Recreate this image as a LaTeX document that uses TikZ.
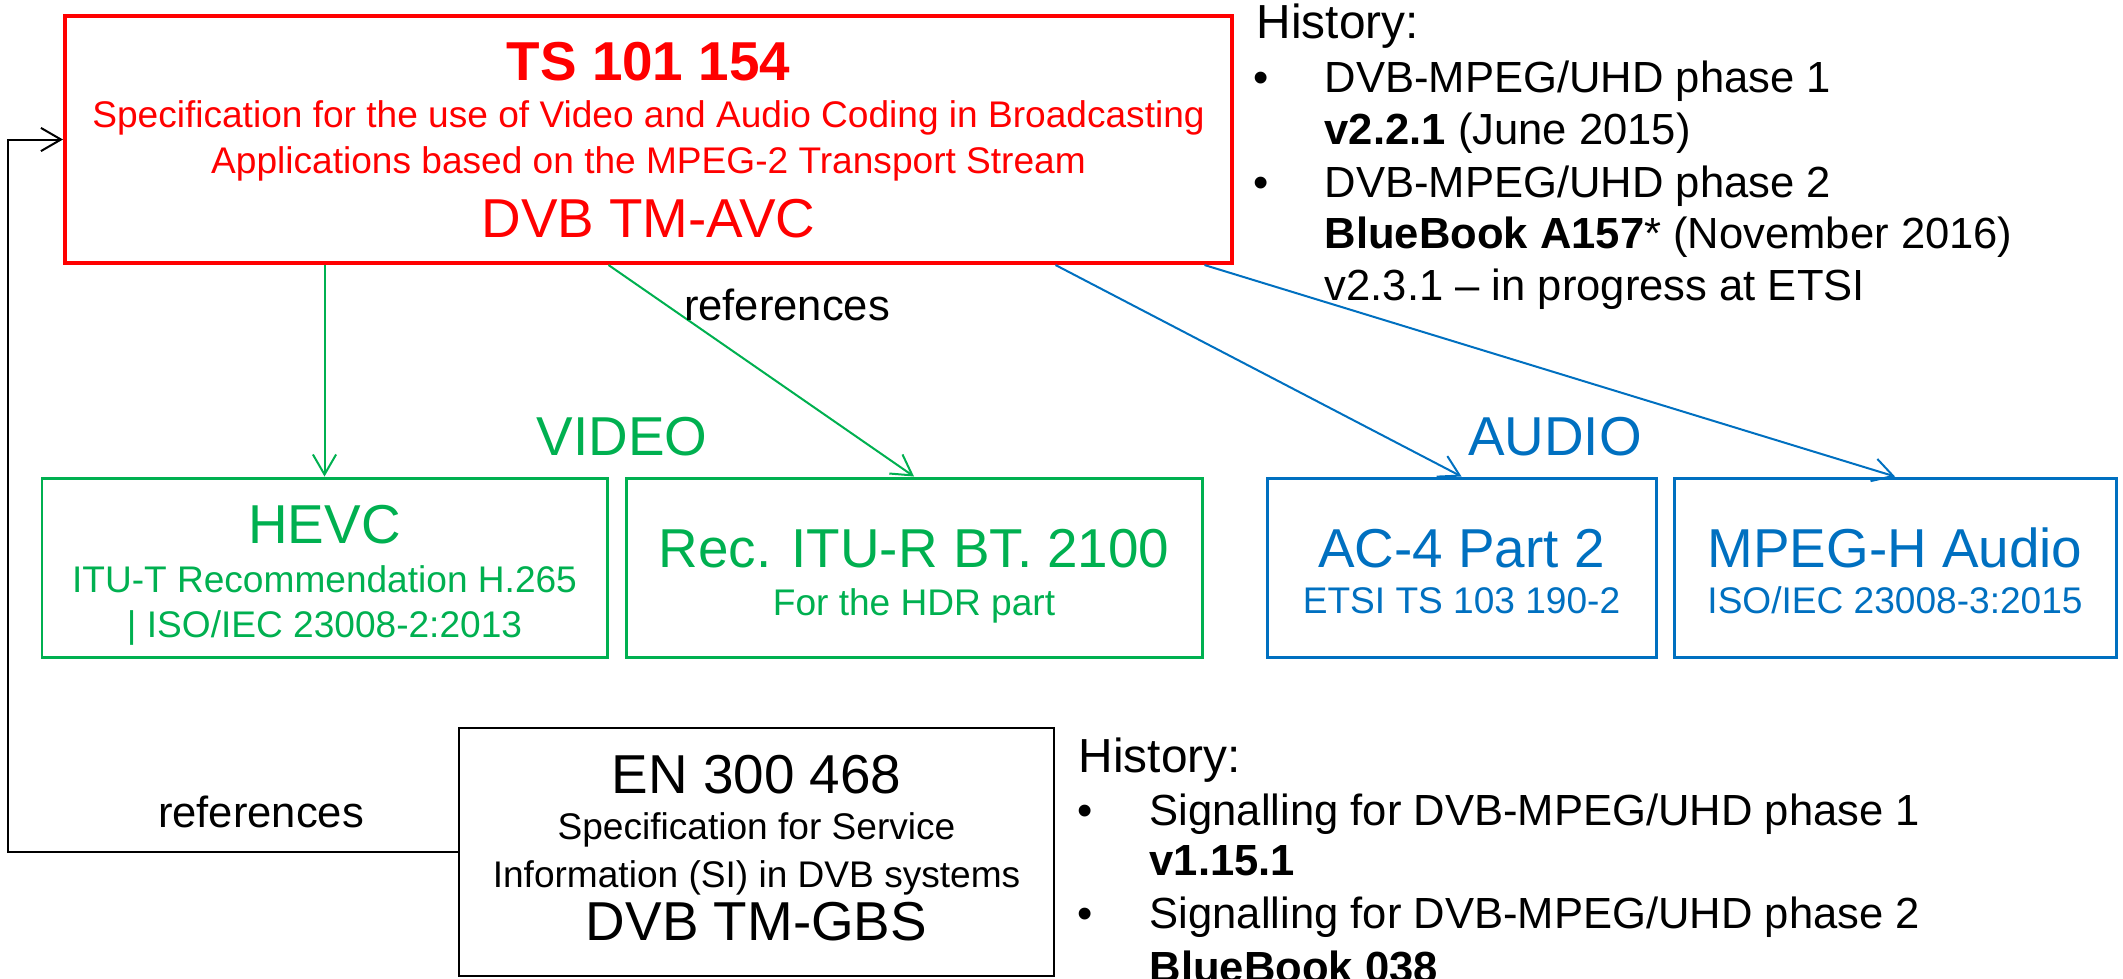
\documentclass[tikz,border=0pt]{standalone}
\usepackage{fontspec}
\setmainfont{Liberation Sans}
\usetikzlibrary{arrows.meta}
\definecolor{tsred}{HTML}{FF0000}
\definecolor{vidgreen}{HTML}{00B050}
\definecolor{audblue}{HTML}{0070C0}

\begin{document}
\begin{tikzpicture}[
  >={Straight Barb[length=5.7pt,width=6.6pt]},
  box/.style={draw, inner sep=0, line width=0.85pt},
  txtL/.style={inner sep=0, anchor=base, font=\fontsize{15.6}{18}\selectfont},
  txtS/.style={inner sep=0, anchor=base, font=\fontsize{10.55}{12.6}\selectfont},
  txtM/.style={inner sep=0, anchor=base west, font=\fontsize{12.4}{15}\selectfont},
  txtH/.style={inner sep=0, anchor=base west, font=\fontsize{13.6}{16}\selectfont},
  link/.style={->, line width=0.57pt}
]
\useasboundingbox (0,0) rectangle (21.23,-9.78);
% Main specification
\node[box, tsred, line width=1.15pt, minimum width=11.67cm, minimum height=2.47cm] (ts) at (6.485,-1.395) {};
\node[txtL, tsred, font=\fontsize{15.6}{18}\selectfont\bfseries] (tsnum) at (6.485,-0.80) {TS 101 154};
\node[txtS, tsred] (tsdesc1) at (6.485,-1.27) {Specification for the use of Video and Audio Coding in Broadcasting};
\node[txtS, tsred] (tsdesc2) at (6.485,-1.73) {Applications based on the MPEG-2 Transport Stream};
\node[txtL, tsred] (tsgrp) at (6.485,-2.37) {DVB TM-AVC};
% Video:
\node[txtL, vidgreen] (video) at (6.22,-4.55) {VIDEO};
\node[box, vidgreen, minimum width=5.65cm, minimum height=1.79cm] (hevc) at (3.245,-5.675) {};
\node[txtL, vidgreen] (hevcname) at (3.245,-5.43) {HEVC};
\node[txtS, vidgreen] (hevcref1) at (3.245,-5.92) {ITU-T Recommendation H.265};
\node[txtS, vidgreen] (hevcref2) at (3.245,-6.37) {| ISO/IEC 23008-2:2013};
\node[box, vidgreen, minimum width=5.76cm, minimum height=1.79cm] (rec) at (9.14,-5.675) {};
\node[txtL, vidgreen] (recname) at (9.14,-5.67) {Rec. ITU-R BT. 2100};
\node[txtS, vidgreen] (recref) at (9.14,-6.15) {For the HDR part};
% Audio:
\node[txtL, audblue] (audio) at (15.55,-4.55) {AUDIO};
\node[box, audblue, minimum width=3.89cm, minimum height=1.79cm] (ac) at (14.615,-5.675) {};
\node[txtL, audblue] (acname) at (14.615,-5.67) {AC-4 Part 2};
\node[txtS, audblue] (acref) at (14.615,-6.13) {ETSI TS 103 190-2};
\node[box, audblue, minimum width=4.42cm, minimum height=1.79cm] (mpegh) at (18.95,-5.675) {};
\node[txtL, audblue] (mpeghname) at (18.95,-5.67) {MPEG-H Audio};
\node[txtS, audblue] (mpeghref) at (18.95,-6.13) {ISO/IEC 23008-3:2015};
% SI specification
\node[box, line width=0.65pt, minimum width=5.95cm, minimum height=2.48cm] (en) at (7.565,-8.52) {};
\node[txtL] (ennum) at (7.565,-7.93) {EN 300 468};
\node[txtS] (endesc1) at (7.565,-8.39) {Specification for Service};
\node[txtS] (endesc2) at (7.565,-8.87) {Information (SI) in DVB systems};
\node[txtL] (engrp) at (7.565,-9.40) {DVB TM-GBS};
% History lists:
\node[txtH] (hist1) at (12.56,-0.38) {History:};
\node[txtM] (bul11) at (12.53,-0.92) {•};
\node[txtM] (hist11) at (13.24,-0.92) {DVB-MPEG/UHD phase 1};
\node[txtM] (hist12) at (13.24,-1.44) {\textbf{v2.2.1} (June 2015)};
\node[txtM] (bul12) at (12.53,-1.97) {•};
\node[txtM] (hist13) at (13.24,-1.97) {DVB-MPEG/UHD phase 2};
\node[txtM] (hist14) at (13.24,-2.48) {\textbf{BlueBook A157}* (November 2016)};
\node[txtM] (hist15) at (13.24,-3.00) {v2.3.1 – in progress at ETSI};
\node[txtH] (hist2) at (10.78,-7.72) {History:};
\node[txtM] (bul21) at (10.77,-8.25) {•};
\node[txtM] (hist21) at (11.49,-8.25) {Signalling for DVB-MPEG/UHD phase 1};
\node[txtM] (hist22) at (11.49,-8.75) {\textbf{v1.15.1}};
\node[txtM] (bul22) at (10.77,-9.28) {•};
\node[txtM] (hist23) at (11.49,-9.28) {Signalling for DVB-MPEG/UHD phase 2};
\node[txtM] (hist24) at (11.49,-9.82) {\textbf{BlueBook 038}};
% References:
\draw[link, vidgreen] (hevc.north |- ts.south) -- (hevc.north);
\draw[link, vidgreen] ([xshift=-0.40cm]ts.south) -- (rec.north);
\draw[link, audblue] ([xshift=4.07cm]ts.south) -- (ac.north);
\draw[link, audblue] ([xshift=5.56cm]ts.south) -- (mpegh.north);
\node[txtM, anchor=base] (refs1) at (7.87,-3.20) {references};
\coordinate (loop) at (0.08,-8.52);
\draw[link] (en.west) -| (loop) |- (ts.west);
\node[txtM, anchor=base] (refs2) at (2.61,-8.27) {references};
\end{tikzpicture}
\end{document}
